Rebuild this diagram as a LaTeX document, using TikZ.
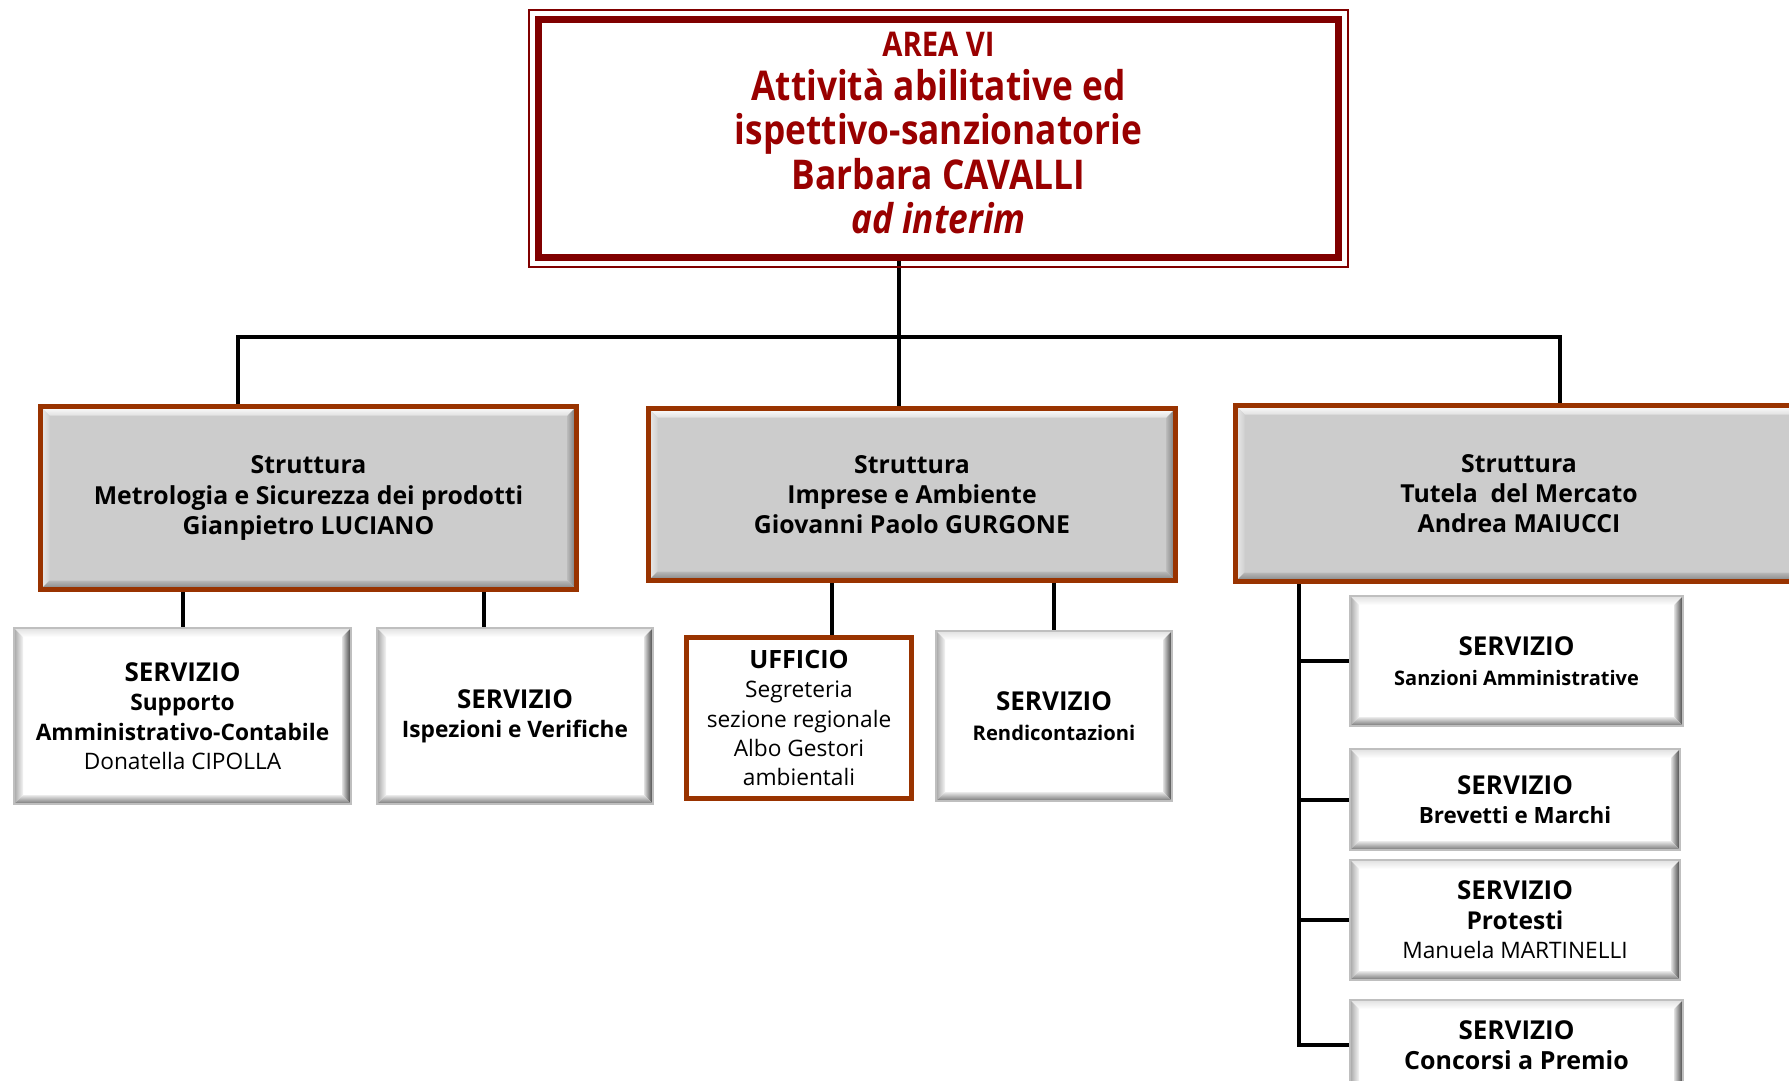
\documentclass[tikz,border=0pt]{standalone}
\usepackage{fontspec}
\setmainfont{Open Sans}
\newfontfamily\titlefont[FakeStretch=0.86]{Open Sans}
\usetikzlibrary{positioning,backgrounds}

\definecolor{areared}{RGB}{128,0,0}
\definecolor{areatext}{RGB}{153,0,0}
\definecolor{strutbrown}{RGB}{153,51,0}
\definecolor{boxgray}{RGB}{204,204,204}

% bevelled edges: top out/in, left out/in, right out/in, bottom out/in
\newcommand{\bevelpaint}[8]{%
  \coordinate (pnw) at (path picture bounding box.north west);
  \coordinate (pse) at (path picture bounding box.south east);
  \coordinate (pne) at (pnw -| pse);
  \coordinate (psw) at (pnw |- pse);
  \shade[top color=#1, bottom color=#2] (pnw) -- (pne) -- ([shift={(-4.5pt,-4.5pt)}]pne) -- ([shift={(4.5pt,-4.5pt)}]pnw) -- cycle;
  \shade[left color=#3, right color=#4] (pnw) -- ([shift={(4.5pt,-4.5pt)}]pnw) -- ([shift={(4.5pt,4.5pt)}]psw) -- (psw) -- cycle;
  \shade[left color=#6, right color=#5] (pne) -- (pse) -- ([shift={(-4.5pt,4.5pt)}]pse) -- ([shift={(-4.5pt,-4.5pt)}]pne) -- cycle;
  \shade[top color=#8, bottom color=#7] (psw) -- (pse) -- ([shift={(-4.5pt,4.5pt)}]pse) -- ([shift={(4.5pt,4.5pt)}]psw) -- cycle;
}

\newcommand{\strutfont}{\fontsize{12.4}{15.1}\selectfont\bfseries}
\newcommand{\servfont}{\fontsize{11.35}{14.7}\selectfont}
\newcommand{\servhead}[1]{{\fontsize{13}{14.7}\selectfont\bfseries #1}}

\tikzstyle{area} = [rectangle, draw=areared, line width=2.75pt, fill=white, inner sep=0pt]
\tikzstyle{areatitle} = [text=areatext, align=center, inner sep=0pt, font=\titlefont\bfseries\fontsize{20.5}{22.1}\selectfont]
\tikzstyle{strut} = [rectangle, draw=strutbrown, line width=2.5pt, fill=boxgray, align=center, inner sep=0pt, font=\strutfont,
    path picture={\bevelpaint{white}{black!12}{black!8}{black!18}{black!55}{black!28}{black!50}{black!28}}]
\tikzstyle{serv} = [rectangle, draw=black!25, line width=0.6pt, fill=white, align=center, inner sep=0pt, font=\servfont,
    path picture={\bevelpaint{black!12}{white}{black!35}{black!4}{black!75}{black!12}{black!55}{black!8}}]
\tikzstyle{uff} = [rectangle, draw=strutbrown, line width=2.5pt, fill=white, align=center, inner sep=0pt, font=\servfont]
\tikzstyle{link} = [line width=2pt, black]

\begin{document}
\begin{tikzpicture}[x=0.5pt, y=-0.5pt]

    \useasboundingbox (0,0) rectangle (1789,1081);

    % head of the area
    \node (top) [area, minimum width=400.75pt, minimum height=119.75pt] at (938.5,138.5) {};
    \draw [areared, line width=1.25pt] ([shift={(-3pt,3pt)}]top.north west) rectangle ([shift={(3pt,-3pt)}]top.south east);
    \draw [areared, line width=1pt] ([shift={(3.1pt,-3.1pt)}]top.north west) rectangle ([shift={(-3.1pt,3.1pt)}]top.south east);
    \node (title) [areatitle] at (938.5,133)
        {{\fontsize{17}{22.1}\selectfont AREA VI}\\ Attività abilitative ed\\ ispettivo-sanzionatorie\\ Barbara CAVALLI\\ \textit{ad interim}};

    % strutture
    \node (s1) [strut, minimum width=268pt, minimum height=91.5pt] at (308.5,498)
        {Struttura\\ Metrologia e Sicurezza dei prodotti\\ Gianpietro LUCIANO};
    \node (s2) [strut, minimum width=263.5pt, minimum height=86pt] at (912,494.5)
        {Struttura\\ Imprese e Ambiente\\ Giovanni Paolo GURGONE};
    \node (s3) [strut, minimum width=283.5pt, minimum height=88pt] at (1519,493.5)
        {Struttura\\ Tutela \ del Mercato\\ Andrea MAIUCCI};

    % servizi e uffici
    \node (a1) [serv, minimum width=168.5pt, minimum height=88pt] at (182.5,716)
        {\servhead{SERVIZIO}\\ \textbf{Supporto}\\ \textbf{Amministrativo-Contabile}\\ Donatella CIPOLLA};
    \node (a2) [serv, minimum width=138pt, minimum height=88pt] at (515,716)
        {\servhead{SERVIZIO}\\ \textbf{Ispezioni e Verifiche}};
    \node (u1) [uff, minimum width=112.5pt, minimum height=80.5pt] at (799,718)
        {{\fontsize{12.6}{14.7}\selectfont\bfseries UFFICIO}\\ Segreteria\\ sezione regionale\\ Albo Gestori\\ ambientali};
    \node (r1) [serv, minimum width=118pt, minimum height=85pt] at (1054,716)
        {\servhead{SERVIZIO}\\ {\fontsize{10.1}{14.7}\selectfont\bfseries Rendicontazioni}};
    \node (c1) [serv, minimum width=166.5pt, minimum height=65pt] at (1516.5,661)
        {\servhead{SERVIZIO}\\ {\fontsize{10}{14.7}\selectfont\bfseries Sanzioni Amministrative}};
    \node (c2) [serv, minimum width=165pt, minimum height=50.5pt] at (1515,799.5)
        {\servhead{SERVIZIO}\\ {\fontsize{11.2}{14.7}\selectfont\bfseries Brevetti e Marchi}};
    \node (c3) [serv, minimum width=165pt, minimum height=60pt] at (1515,920)
        {\servhead{SERVIZIO}\\ {\fontsize{12.3}{14.7}\selectfont\bfseries Protesti}\\ Manuela MARTINELLI};
    \node (c4) [serv, minimum width=166.5pt, minimum height=45pt] at (1516.5,1045)
        {\servhead{SERVIZIO}\\ {\fontsize{12.5}{14.7}\selectfont\bfseries Concorsi a Premio}};

    \coordinate (b1) at (238,337);
    \coordinate (hub) at (899,337);
    \coordinate (b3) at (1560,337);
    \coordinate (spine) at (1299,600);

    \begin{pgfonlayer}{background}
        \draw [link] (top.south -| hub) -- (hub |- s2.north);
        \draw [link] (b1 |- s1.north) -- (b1) -- (b3) -- (b3 |- s3.north);
        \draw [link] (s1.south -| a1.north) -- (a1.north);
        \draw [link] ([xshift=-15.5pt]a2.north |- s1.south) -- ([xshift=-15.5pt]a2.north);
        \draw [link] ([xshift=16.5pt]u1.north |- s2.south) -- ([xshift=16.5pt]u1.north);
        \draw [link] (s2.south -| r1.north) -- (r1.north);
        \draw [link] (s3.south -| spine) |- (c4.west);
        \draw [link] (spine |- c1.west) -- (c1.west);
        \draw [link] (spine |- c2.west) -- (c2.west);
        \draw [link] (spine |- c3.west) -- (c3.west);
    \end{pgfonlayer}

\end{tikzpicture}
\end{document}
